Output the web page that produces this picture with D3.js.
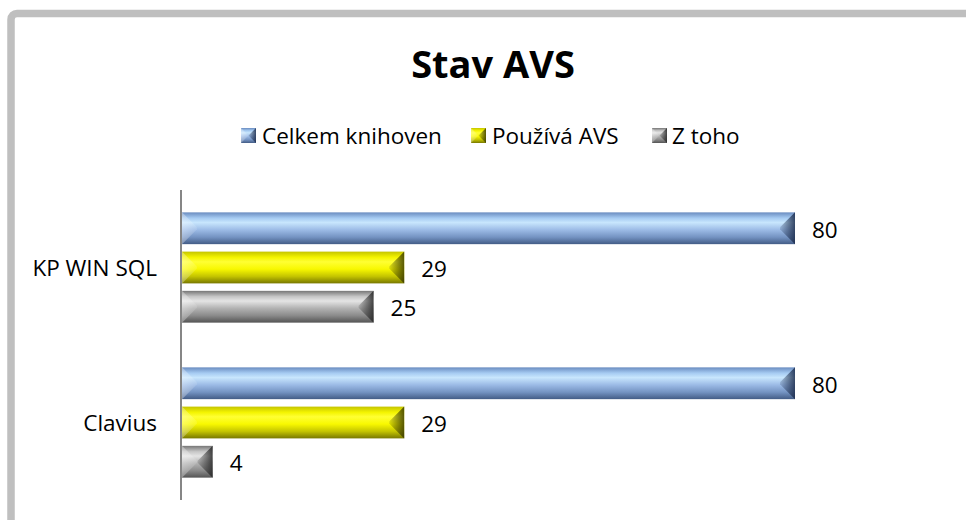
<!DOCTYPE html>
<html>
<head>
<meta charset="utf-8">
<script src="https://cdn.jsdelivr.net/npm/d3@7"></script>
<style>
  body { margin: 0; background: #fff; }
  text { font-family: "Open Sans", sans-serif; fill: #000; }
</style>
</head>
<body>
<div id="vis"></div>
<script>
// Data
var categories = ["KP WIN SQL", "Clavius"];
var series = ["Celkem knihoven", "Používá AVS", "Z toho"];
var celkem = [80, 80];
var pouziva = [29, 29];
var zToho = [25, 4];
var values = [celkem, pouziva, zToho];

(function() {
    var width = 966;
    var height = 520;

    var svg = d3.select("#vis")
        .append("svg")
        .attr("width", width)
        .attr("height", height);

    // colour stops per series (vertical bevel gradient)
    var palettes = [
        { id: "g0", stops: ["#6a8cc0", "#a6cbf2", "#c8e6fd", "#9cbbe6", "#7493c2", "#435c86"], edge: "#1c2c4c" },
        { id: "g1", stops: ["#c4c400", "#f4f400", "#ffff33", "#f8f800", "#c4c400", "#787800"], edge: "#3a3a00" },
        { id: "g2", stops: ["#767676", "#c6c6c6", "#e4e4e4", "#b2b2b2", "#8a8a8a", "#545454"], edge: "#262626" }
    ];
    var offsets = [0, 0.18, 0.32, 0.55, 0.78, 1];

    var defs = svg.append("defs");
    palettes.forEach(function(p) {
        var g = defs.append("linearGradient")
            .attr("id", p.id)
            .attr("x1", 0).attr("y1", 0).attr("x2", 0).attr("y2", 1);
        p.stops.forEach(function(c, i) {
            g.append("stop").attr("offset", offsets[i]).attr("stop-color", c);
        });
        var r = defs.append("linearGradient")
            .attr("id", p.id + "r")
            .attr("x1", 0).attr("y1", 0).attr("x2", 1).attr("y2", 0);
        r.append("stop").attr("offset", 0).attr("stop-color", p.edge).attr("stop-opacity", 0.15);
        r.append("stop").attr("offset", 1).attr("stop-color", p.edge).attr("stop-opacity", 0.85);
    });
    var lg = defs.append("linearGradient")
        .attr("id", "lightL")
        .attr("x1", 0).attr("y1", 0).attr("x2", 1).attr("y2", 0);
    lg.append("stop").attr("offset", 0).attr("stop-color", "#fff").attr("stop-opacity", 0.35);
    lg.append("stop").attr("offset", 1).attr("stop-color", "#fff").attr("stop-opacity", 0.1);

    // Outer frame (cut by the window on the right and bottom)
    svg.append("rect")
        .attr("x", 11).attr("y", 13.5)
        .attr("width", 1000).attr("height", 600)
        .attr("rx", 6)
        .attr("fill", "none")
        .attr("stroke", "#bfbfbf")
        .attr("stroke-width", 7.5);

    // Title
    svg.append("text")
        .attr("x", 493).attr("y", 78)
        .attr("text-anchor", "middle")
        .style("font-size", "38px")
        .style("font-weight", "bold")
        .text("Stav AVS");

    // Scales
    var x = d3.scaleLinear().domain([0, 80]).range([182, 795]);
    var y0 = d3.scaleBand().domain(categories).range([190, 500]);
    var y1 = d3.scaleBand().domain(d3.range(series.length))
        .range([0, y0.bandwidth()])
        .paddingInner(0.19)
        .paddingOuter(0.57);

    // bevelled bar: gradient body + light left end + dark right end
    function bevelBar(g, bx, by, bw, bh, s) {
        var b = Math.min(15, bw / 2, bh / 2);
        g.append("rect")
            .attr("x", bx).attr("y", by)
            .attr("width", bw).attr("height", bh)
            .attr("fill", "url(#" + palettes[s].id + ")");
        g.append("path")
            .attr("d", d3.line()([[bx, by], [bx + b, by + b], [bx + b, by + bh - b], [bx, by + bh]]))
            .attr("fill", "url(#lightL)");
        g.append("path")
            .attr("d", d3.line()([[bx + bw, by], [bx + bw - b, by + b], [bx + bw - b, by + bh - b], [bx + bw, by + bh]]))
            .attr("fill", "url(#" + palettes[s].id + "r)");
    }

    // Bars
    var groups = svg.append("g").selectAll("g")
        .data(categories)
        .enter().append("g")
        .attr("transform", function(d) { return "translate(0," + y0(d) + ")"; });

    groups.each(function(cat, ci) {
        var g = d3.select(this);
        series.forEach(function(s, si) {
            var v = values[si][ci];
            var by = y1(si);
            var bh = y1.bandwidth();
            bevelBar(g, x(0), by, x(v) - x(0), bh, si);
            g.append("text")
                .attr("x", x(v) + 17)
                .attr("y", by + bh / 2)
                .attr("dy", "0.42em")
                .style("font-size", "22.5px")
                .text(v);
        });
    });

    // Category axis
    var axis = d3.axisLeft(y0).tickSize(0).tickPadding(24);
    var ag = svg.append("g")
        .attr("transform", "translate(181,0)")
        .call(axis);
    ag.select(".domain")
        .attr("d", "M0,190V500")
        .attr("stroke", "#868686")
        .attr("stroke-width", 2);
    ag.selectAll(".tick text")
        .attr("dy", "0.36em")
        .style("font-family", "'Open Sans', sans-serif")
        .style("font-size", "22.5px")
        .attr("fill", "#000");

    // Legend
    var legendX = [241, 471, 652];
    var legend = svg.append("g").selectAll("g")
        .data(series)
        .enter().append("g")
        .attr("transform", function(d, i) { return "translate(" + legendX[i] + ",128)"; });
    legend.each(function(d, i) {
        bevelBar(d3.select(this), 0, 0, 15, 15, i);
    });
    legend.append("text")
        .attr("x", function(d, i) { return i == 2 ? 20 : 21; })
        .attr("y", 16)
        .style("font-size", "22.5px")
        .text(function(d) { return d; });
})();
</script>
</body>
</html>
